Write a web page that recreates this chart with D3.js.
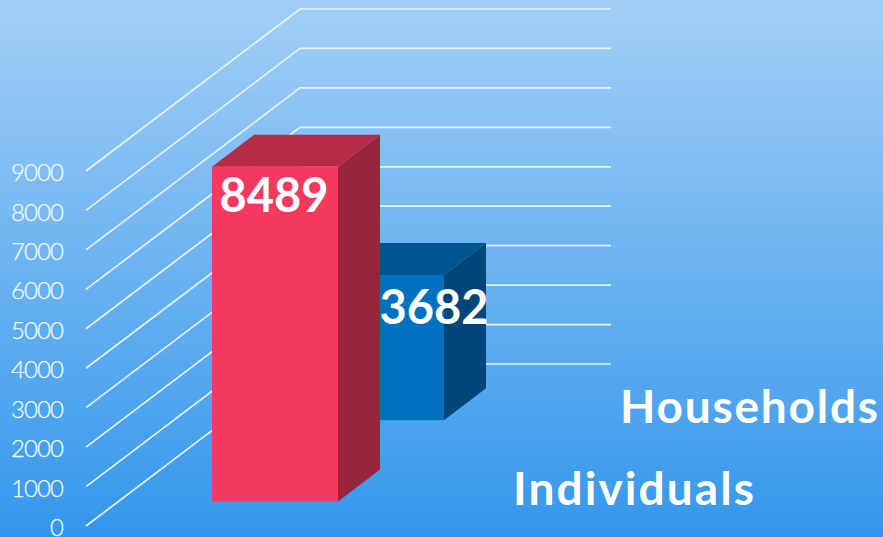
<!DOCTYPE html>
<html><head><meta charset="utf-8">
<script src="https://cdn.jsdelivr.net/npm/d3@7"></script>
<style>html,body{margin:0;padding:0;overflow:hidden}svg{display:block}</style>
</head><body><svg id="c" width="883" height="537"></svg>
<script>
const categories = ["Individuals", "Households"];
const seriesValues = [8489, 3682];
const tickValues = [0,1000,2000,3000,4000,5000,6000,7000,8000,9000];
const faceColors = [["#f33a5e","#b62c47","#97253c"],["#0070c0","#00548f","#004679"]];

const W = 883, H = 537;
const svg = d3.select("#c");
const defs = svg.append("defs");
const g = defs.append("linearGradient").attr("id","bg").attr("x1",0).attr("y1",0).attr("x2",0).attr("y2",1);
g.append("stop").attr("offset","0%").attr("stop-color","#a3cff6");
g.append("stop").attr("offset","100%").attr("stop-color","#3397ec");
svg.append("rect").attr("width",W).attr("height",H).attr("fill","url(#bg)");

const y = d3.scaleLinear().domain([0,9000]).range([526,171]);
const wall = {x0:86, x1:300, x2:611, dy:-162};
const grid = svg.append("g");
grid.selectAll("path").data(tickValues).join("path")
  .attr("fill","none").attr("stroke","#e6f2fc").attr("stroke-width",1.7)
  .attr("d", v => d3.line()([[wall.x0,y(v)],[wall.x1,y(v)+wall.dy],[wall.x2,y(v)+wall.dy]]));

const axis = d3.axisLeft(y).tickValues(tickValues).tickSize(0).tickPadding(0).tickFormat(d3.format("d"));
const ag = svg.append("g").attr("transform","translate(63,0)").call(axis);
ag.select(".domain").remove();
ag.selectAll("text").attr("fill","#f2f8fe").attr("stroke","#f2f8fe").attr("stroke-width",0.25)
  .attr("font-family","Lato, sans-serif").attr("font-weight",300).attr("font-size",24).attr("letter-spacing",-0.9).attr("dy","0.4em");

const barX = d3.scaleOrdinal().domain(categories).range([212,318]);
const barBase = d3.scaleOrdinal().domain(categories).range([501.5,420.2]);
const barW = 126, depthX = 42, depthY = -32;
const height = v => y(0)-y(v);
const order = categories.map((c,i)=>({c,v:seriesValues[i],col:faceColors[i]})).reverse();
const bars = svg.selectAll("g.bar").data(order).join("g").attr("class","bar");
const poly = pts => d3.line()(pts)+"Z";
bars.append("path").attr("fill",d=>d.col[2]).attr("d",d=>{
  const l=barX(d.c)+barW, b=barBase(d.c), t=b-height(d.v);
  return poly([[l,b],[l,t],[l+depthX,t+depthY],[l+depthX,b+depthY]]);});
bars.append("path").attr("fill",d=>d.col[1]).attr("d",d=>{
  const l=barX(d.c), t=barBase(d.c)-height(d.v);
  return poly([[l,t],[l+barW,t],[l+barW+depthX,t+depthY],[l+depthX,t+depthY]]);});
bars.append("rect").attr("fill",d=>d.col[0])
  .attr("x",d=>barX(d.c)).attr("width",barW)
  .attr("y",d=>barBase(d.c)-height(d.v)).attr("height",d=>height(d.v));

const bold = s => s.attr("fill","#fff").attr("font-family","Lato, sans-serif").attr("font-weight",700);
const valueX = [274,434], valueY = [212,324], legendX = [513,620], legendY = [505,423], legendW = [241,258];
order.slice().reverse().forEach((d,i)=>{
  svg.append("text").text(d.v).attr("x",valueX[i]).attr("y",valueY[i]).attr("text-anchor","middle").attr("font-size",47).call(bold);
  svg.append("text").text(d.c).attr("x",legendX[i]).attr("y",legendY[i]).attr("font-size",46)
    .attr("textLength",legendW[i]).attr("lengthAdjust","spacing").call(bold);
});
</script></body></html>
